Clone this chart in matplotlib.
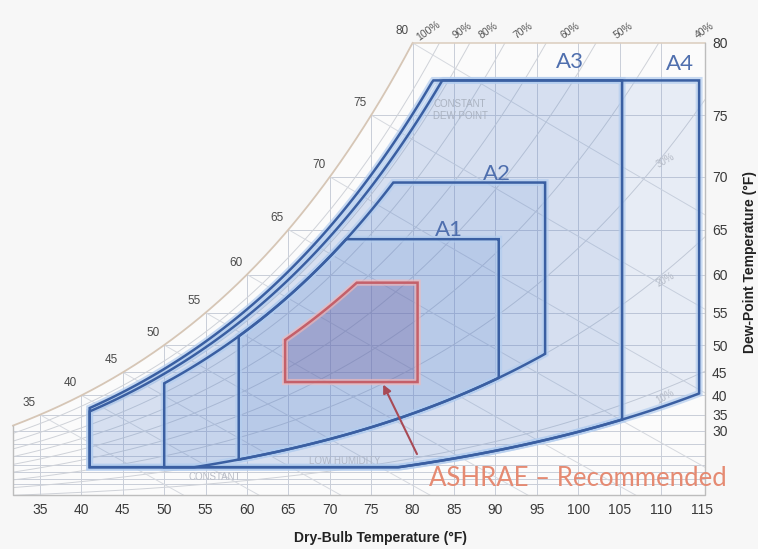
import numpy as np
import matplotlib
matplotlib.use('Agg')
import matplotlib.pyplot as plt
from matplotlib.patches import Polygon

# ---------------- data ----------------
classes = ['A1', 'A2', 'A3', 'A4']
db_min = [59.0, 50.0, 41.0, 41.0]          # dry-bulb lower limit (°F)
db_max = [90.4, 96.0, 105.3, 114.6]        # dry-bulb upper limit (°F)
dp_max = [64.0, 69.5, 77.5, 77.5]          # max dew point (°F)
rh_max = [0.76, 0.76, 0.82, 0.85]          # upper RH limit
rh_min = [0.20, 0.20, 0.085, 0.085]        # lower RH limit
dp_floor = 13.5                            # lower dew-point limit (°F)
class_label_db = [84.4, 90.2, 99.0, 112.3]
class_label_dy = [9, 9, 18, 16]

rec_db = [64.6, 80.6]                      # recommended dry-bulb range
rec_dp = [43.0, 59.0]                      # recommended dew-point range
rec_rh = 0.61                              # recommended upper RH

db_ticks = list(range(35, 120, 5))
dp_ticks = list(range(30, 85, 5))
sat_labels = list(range(35, 85, 5))
rh_grid = [0.1, 0.2, 0.3, 0.4, 0.5, 0.6, 0.7, 0.8, 0.9]
rh_top_labels = ['100%', '90%', '80%', '70%', '60%', '50%', '40%']
rh_top_label_db = [81.9, 86.0, 89.1, 93.3, 99.0, 105.4, 115.3]
rh_in_labels = ['30%', '20%', '10%']
rh_in_values = [0.3, 0.2, 0.1]
wb_grid = list(range(35, 85, 5))
dp_grid_low = [0, 5, 10, 15, 20, 25]
chart_db = [31.74, 115.3]
chart_dp_top = 80

# ---------------- psychrometric scale helpers ----------------
P = 101.325
def pws(t_f):
    tc = (np.asarray(t_f, dtype=float) - 32.0) / 1.8
    return 0.61094 * np.exp(17.625 * tc / (tc + 243.04))
def w_from_pw(pw):
    return 0.622 * pw / (P - pw)
def w_dp(dp):
    return w_from_pw(pws(dp))
def w_rh(t, rh):
    return w_from_pw(rh * pws(t))
def w_wb(t, twb):
    ws = w_dp(twb)
    return ((1093 - 0.556 * twb) * ws - 0.240 * (t - twb)) / (1093 + 0.444 * t - twb)

# ---------------- figure ----------------
fig = plt.figure(figsize=(7.58, 5.49), dpi=100, facecolor='#f7f7f7')
ax = fig.add_axes([13 / 758, 54 / 549, 692 / 758, 465 / 549])
ax.set_facecolor('none')
ylo, yhi = 0.000386, 0.022811
ax.set_xlim(chart_db[0], 115.31)
ax.set_ylim(ylo, yhi)
for s in ax.spines.values():
    s.set_visible(False)

w_top = float(w_dp(chart_dp_top))
t_sat = np.linspace(chart_db[0], chart_dp_top, 300)
outline_x = np.concatenate([t_sat, [chart_db[1], chart_db[1], chart_db[0]]])
outline_y = np.concatenate([w_dp(t_sat), [w_top, ylo, ylo]])
clip = Polygon(np.column_stack([outline_x, outline_y]), closed=True,
               facecolor='#fbfbfb', edgecolor='none', zorder=0)
ax.add_patch(clip)

grid_c = '#c9ced8'
T_full = np.linspace(chart_db[0], chart_db[1], 400)
# dry-bulb lines
for t in db_ticks[:-1]:
    l, = ax.plot([t, t], [ylo, yhi], color=grid_c, lw=0.7, zorder=1)
    l.set_clip_path(clip)
# dew-point lines
for d in dp_ticks[:-1] + dp_grid_low:
    l, = ax.plot([chart_db[0], chart_db[1]], [w_dp(d)] * 2, color=grid_c, lw=0.7, zorder=1)
    l.set_clip_path(clip)
# RH curves
for rh in rh_grid:
    l, = ax.plot(T_full, w_rh(T_full, rh), color='#cfd2d8', lw=0.7, zorder=1)
    l.set_clip_path(clip)
# wet-bulb lines
for twb in wb_grid:
    tt = np.linspace(twb, chart_db[1], 100)
    l, = ax.plot(tt, w_wb(tt, twb), color='#d6d9df', lw=0.7, zorder=1)
    l.set_clip_path(clip)

# chart outline
ax.plot(t_sat, w_dp(t_sat), color='#d6c6b6', lw=1.3, zorder=1.5, clip_on=False)
ax.plot([chart_dp_top, chart_db[1]], [w_top, w_top], color='#ddd0c2', lw=1.2, zorder=1.5, clip_on=False)
ax.plot([chart_db[1], chart_db[1], chart_db[0], chart_db[0]],
        [w_top, ylo, ylo, float(w_dp(chart_db[0]))], color='#bdbdbd', lw=1.0, zorder=1.5, clip_on=False)

# envelopes
def envelope(t0, t1, lo_fn, hi_fn):
    t = np.linspace(t0, t1, 400)
    return np.column_stack([np.concatenate([t, t[::-1]]),
                            np.concatenate([lo_fn(t), hi_fn(t)[::-1]])])

order = [3, 2, 1, 0]
w_floor = float(w_dp(dp_floor))
for i in order:
    pts = envelope(db_min[i], db_max[i],
                   lambda t, i=i: np.maximum(w_floor, w_rh(t, rh_min[i])),
                   lambda t, i=i: np.minimum(w_dp(dp_max[i]), w_rh(t, rh_max[i])))
    ax.add_patch(Polygon(pts, closed=True, facecolor='#4d7bcc', alpha=0.11,
                         edgecolor='none', zorder=2))
    ax.add_patch(Polygon(pts, closed=True, facecolor='none', edgecolor='#b3cdef',
                         lw=5, alpha=0.7, zorder=3, joinstyle='miter'))
    ax.add_patch(Polygon(pts, closed=True, facecolor='none', edgecolor='#3a5fa2',
                         lw=1.8, zorder=3.2, joinstyle='miter'))
    ax.annotate(classes[i], (class_label_db[i], float(w_dp(dp_max[i]))),
                xytext=(0, class_label_dy[i]), textcoords='offset pixels',
                ha='center', va='center', fontsize=16, color='#4f6fae',
                family='Lato', zorder=4)

# recommended
rec_pts = envelope(rec_db[0], rec_db[1],
                   lambda t: np.full_like(t, float(w_dp(rec_dp[0]))),
                   lambda t: np.minimum(w_dp(rec_dp[1]), w_rh(t, rec_rh)))
ax.add_patch(Polygon(rec_pts, closed=True, facecolor='#6a5c9e', alpha=0.33,
                     edgecolor='none', zorder=4))
ax.add_patch(Polygon(rec_pts, closed=True, facecolor='none', edgecolor='#f0b9bb',
                     lw=4.5, alpha=0.7, zorder=4.1, joinstyle='miter'))
ax.add_patch(Polygon(rec_pts, closed=True, facecolor='none', edgecolor='#c4606a',
                     lw=1.8, zorder=4.2, joinstyle='miter'))
ax.annotate('', xy=(76.3, float(w_dp(rec_dp[0]))), xytext=(35, -72),
            textcoords='offset pixels',
            arrowprops=dict(arrowstyle='-|>', color='#a84a55', lw=1.5,
                            mutation_scale=12, shrinkA=0, shrinkB=2), zorder=5)

# saturation labels
for t in sat_labels:
    ax.annotate(str(t), (t, float(w_dp(t))), xytext=(-11, 12), textcoords='offset pixels',
                ha='center', va='center', fontsize=8.5, color='#4a4a4a',
                family='Liberation Sans', zorder=5)
# RH labels at top
for lab, t in zip(rh_top_labels, rh_top_label_db):
    ax.annotate(lab, (t, w_top), xytext=(0, 12), textcoords='offset pixels',
                ha='center', va='center', fontsize=7.5, color='#555555', rotation=35,
                family='Liberation Sans', annotation_clip=False, zorder=5)
for lab, rh in zip(rh_in_labels, rh_in_values):
    ax.annotate(lab, (110.5, float(w_rh(110.5, rh))), xytext=(0, -8), textcoords='offset pixels',
                ha='center', va='center', fontsize=7, color='#b4bac6', rotation=30,
                family='Liberation Sans', zorder=5)

# faint chart texts
fig.text(460 / 758, 1 - 110 / 549, 'CONSTANT\nDEW POINT', fontsize=7, color='#aab2c0',
         ha='center', va='center', linespacing=1.3, family='Liberation Sans', zorder=5)
fig.text(345 / 758, 1 - 461 / 549, 'LOW HUMIDITY', fontsize=7, color='#b0b8c8',
         ha='center', va='center', family='Liberation Sans')
fig.text(215 / 758, 1 - 477 / 549, 'CONSTANT', fontsize=7, color='#b8bcc6',
         ha='center', va='center', family='Liberation Sans')

# ticks
ax.set_xticks(db_ticks)
ax.set_xticklabels([str(v) for v in db_ticks], family='Liberation Sans')
ax.tick_params(axis='x', length=0, pad=6, labelsize=10, labelcolor='#3a3a3a')
ax.yaxis.tick_right()
ax.set_yticks([float(w_dp(d)) for d in dp_ticks])
ax.set_yticklabels([str(d) for d in dp_ticks], family='Liberation Sans')
ax.tick_params(axis='y', length=0, pad=5, labelsize=10, labelcolor='#3a3a3a')

fig.text(380 / 758, 1 - 538 / 549, 'Dry-Bulb Temperature (°F)', fontsize=10,
         fontweight='bold', color='#222222', ha='center', va='center', family='Liberation Sans')
fig.text(750 / 758, 1 - 262 / 549, 'Dew-Point Temperature (°F)', fontsize=10,
         fontweight='bold', color='#222222', ha='center', va='center', rotation=90,
         family='Liberation Sans')
fig.text(578 / 758, 1 - 479 / 549, 'ASHRAE – Recommended', fontsize=18.5,
         color='#e58a72', ha='center', va='center', family='Lato')

fig.savefig('out.png', dpi=100, facecolor=fig.get_facecolor())
